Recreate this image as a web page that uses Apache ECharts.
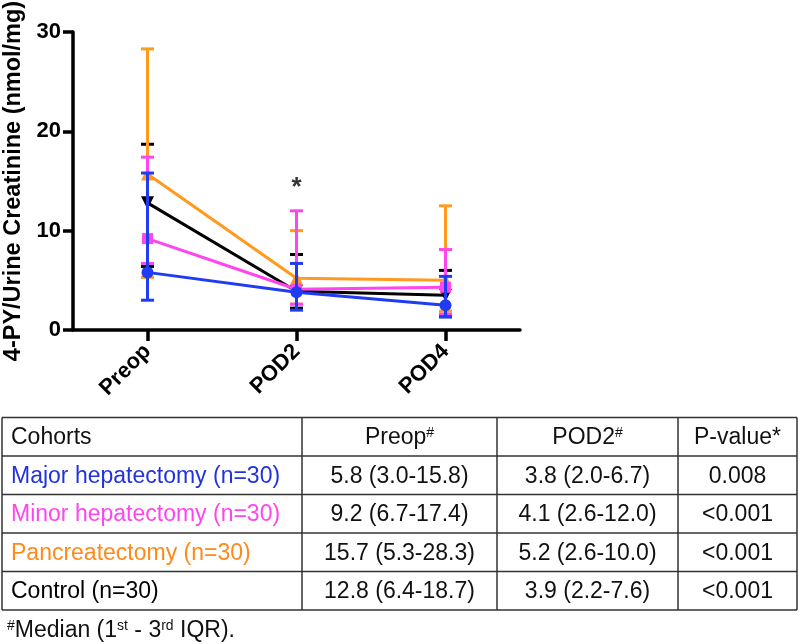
<!DOCTYPE html>
<html>
<head>
<meta charset="utf-8">
<script src="https://cdn.jsdelivr.net/npm/echarts@6/dist/echarts.min.js"></script>
<style>
html,body{margin:0;padding:0;background:#fff;}
#c{width:800px;height:644px;}
</style>
</head>
<body>
<div id="c"></div>
<script>
// ---- data ----
var categories = ['Preop', 'POD2', 'POD4'];
var majorMedian = [5.8, 3.8, 2.5];
var majorLow    = [3.0, 2.0, 1.3];
var majorHigh   = [15.8, 6.7, 5.4];
var minorMedian = [9.2, 4.1, 4.3];
var minorLow    = [6.7, 2.6, 1.6];
var minorHigh   = [17.4, 12.0, 8.1];
var pancMedian  = [15.7, 5.2, 5.0];
var pancLow     = [5.3, 2.6, 1.9];
var pancHigh    = [28.3, 10.0, 12.5];
var ctrlMedian  = [12.8, 3.9, 3.5];
var ctrlLow     = [6.4, 2.2, 1.4];
var ctrlHigh    = [18.7, 7.6, 6.0];
var yTicks = [0, 10, 20, 30];
var starCategory = 'POD2';
var starValue = 14.3;

var tableHeader = ['Cohorts', 'Preop{sup|#}', 'POD2{sup|#}', 'P-value*'];
var tableRows = [
  ['Major hepatectomy (n=30)', '5.8 (3.0-15.8)', '3.8 (2.0-6.7)', '0.008'],
  ['Minor hepatectomy (n=30)', '9.2 (6.7-17.4)', '4.1 (2.6-12.0)', '<0.001'],
  ['Pancreatectomy (n=30)', '15.7 (5.3-28.3)', '5.2 (2.6-10.0)', '<0.001'],
  ['Control (n=30)', '12.8 (6.4-18.7)', '3.9 (2.2-7.6)', '<0.001']
];
var footnote = '{sup|#}Median (1{sup|st} - 3{sup|rd} IQR).';

// ---- styles ----
var FONT = '"Liberation Sans", Arial, Helvetica, sans-serif';
var colMajor = '#1f3cf2';
var colMinor = '#ff45ee';
var colPanc  = '#ff9a1e';
var colCtrl  = '#000000';
var rowColors = ['#2233dd', '#ff45ee', '#ff8a1a', '#000000'];

function errData(low, high) {
  return low.map(function (l, i) { return [i, l, high[i]]; });
}
function errSeries(low, high, color, z) {
  return {
    type: 'custom',
    z: z,
    silent: true,
    data: errData(low, high),
    renderItem: function (params, api) {
      var lo = api.coord([api.value(0), api.value(1)]);
      var hi = api.coord([api.value(0), api.value(2)]);
      var hw = 6.5;
      var st = { stroke: color, lineWidth: 3 };
      return {
        type: 'group',
        children: [
          { type: 'line', shape: { x1: lo[0], y1: lo[1], x2: hi[0], y2: hi[1] }, style: st },
          { type: 'line', shape: { x1: hi[0] - hw, y1: hi[1], x2: hi[0] + hw, y2: hi[1] }, style: st },
          { type: 'line', shape: { x1: lo[0] - hw, y1: lo[1], x2: lo[0] + hw, y2: lo[1] }, style: st }
        ]
      };
    }
  };
}
function lineSeries(name, data, color, symbol, size, rot, z) {
  return {
    name: name,
    type: 'line',
    z: z,
    data: data,
    symbol: symbol,
    symbolSize: size,
    symbolRotate: rot,
    lineStyle: { color: color, width: 3 },
    itemStyle: { color: color },
    showSymbol: true
  };
}

// ---- table graphics ----
var tLeft = 2, tRight = 797, tTop = 417.5, rowH = 38.5;
var colX = [tLeft, 302, 497, 678, tRight];
var graphics = [];
var nRows = tableRows.length + 1;
var lineCol = '#333333';
for (var r = 0; r <= nRows; r++) {
  graphics.push({ type: 'line', silent: true,
    shape: { x1: tLeft, y1: tTop + r * rowH, x2: tRight, y2: tTop + r * rowH },
    style: { stroke: lineCol, lineWidth: 1.5 } });
}
for (var c = 0; c < colX.length; c++) {
  graphics.push({ type: 'line', silent: true,
    shape: { x1: colX[c], y1: tTop, x2: colX[c], y2: tTop + nRows * rowH },
    style: { stroke: lineCol, lineWidth: 1.5 } });
}
var allRows = [tableHeader].concat(tableRows);
allRows.forEach(function (row, ri) {
  var cy = tTop + ri * rowH + rowH / 2 + 1;
  row.forEach(function (txt, ci) {
    var color = (ci === 0 && ri > 0) ? rowColors[ri - 1] : '#111111';
    var x = ci === 0 ? 11 : (colX[ci] + colX[ci + 1]) / 2;
    graphics.push({ type: 'text', silent: true, x: x, y: cy,
      style: { text: txt, fill: color, fontSize: 23, fontFamily: FONT,
        align: ci === 0 ? 'left' : 'center', verticalAlign: 'middle',
        rich: { sup: { fontSize: 14, fontFamily: FONT, fill: color, padding: [0, 0, 10, 0] } } } });
  });
});
graphics.push({ type: 'text', silent: true, x: 7, y: 631,
  style: { text: footnote, fill: '#111111', fontSize: 23, fontFamily: FONT,
    align: 'left', verticalAlign: 'middle',
    rich: { sup: { fontSize: 14, fontFamily: FONT, fill: '#111111', padding: [0, 0, 10, 0] } } } });

var chart = echarts.init(document.getElementById('c'), null, { renderer: 'canvas' });
chart.setOption({
  animation: false,
  backgroundColor: '#ffffff',
  grid: { left: 73, top: 32, width: 447, height: 298, containLabel: false, outerBoundsMode: 'none' },
  xAxis: {
    type: 'category',
    data: categories,
    boundaryGap: true,
    axisLine: { show: true, lineStyle: { color: '#000', width: 3.5 } },
    axisTick: { show: true, alignWithLabel: true, length: 11, lineStyle: { color: '#000', width: 3.5 } },
    axisLabel: { rotate: 45, margin: 18, color: '#000', fontWeight: 'bold', fontSize: 22, fontFamily: FONT },
    splitLine: { show: false }
  },
  yAxis: {
    type: 'value',
    min: yTicks[0],
    max: yTicks[yTicks.length - 1],
    interval: yTicks[1] - yTicks[0],
    name: '4-PY/Urine Creatinine (nmol/mg)',
    nameLocation: 'middle',
    nameRotate: 90,
    nameGap: 44,
    nameTextStyle: { color: '#000', fontWeight: 'bold', fontSize: 23.5, fontFamily: FONT },
    axisLine: { show: true, lineStyle: { color: '#000', width: 3.5 } },
    axisTick: { show: true, length: 10, lineStyle: { color: '#000', width: 3.5 } },
    axisLabel: { margin: 12, color: '#000', fontWeight: 'bold', fontSize: 22, fontFamily: FONT },
    splitLine: { show: false }
  },
  series: [
    lineSeries('Control (n=30)', ctrlMedian, colCtrl, 'triangle', 13, 180, 1),
    errSeries(ctrlLow, ctrlHigh, colCtrl, 1),
    lineSeries('Pancreatectomy (n=30)', pancMedian, colPanc, 'triangle', 13, 0, 2),
    errSeries(pancLow, pancHigh, colPanc, 2),
    lineSeries('Minor hepatectomy (n=30)', minorMedian, colMinor, 'rect', 11, 0, 3),
    errSeries(minorLow, minorHigh, colMinor, 3),
    lineSeries('Major hepatectomy (n=30)', majorMedian, colMajor, 'circle', 12, 0, 4),
    errSeries(majorLow, majorHigh, colMajor, 4),
    {
      type: 'scatter',
      z: 5,
      silent: true,
      symbolSize: 0,
      data: [[starCategory, starValue]],
      label: { show: true, position: 'inside', formatter: '*', color: '#000', fontSize: 26, fontWeight: 'bold', fontFamily: FONT }
    }
  ],
  graphic: graphics
});
</script>
</body>
</html>
